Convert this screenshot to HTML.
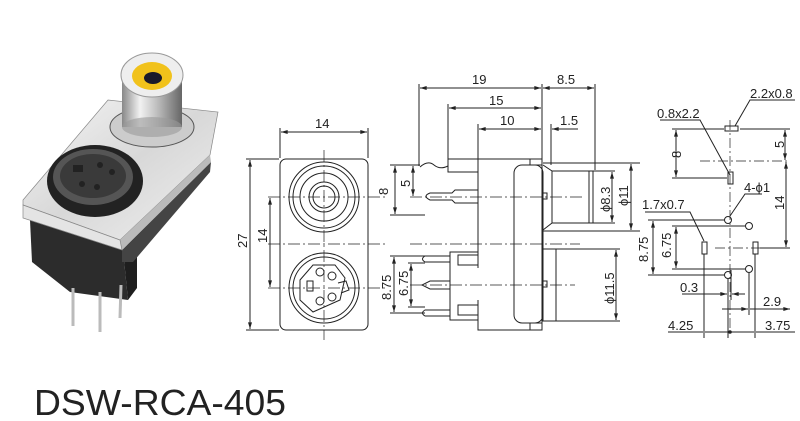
<!DOCTYPE html>
<html><head><meta charset="utf-8"><style>
html,body{margin:0;padding:0;background:#fff;width:800px;height:421px;overflow:hidden}
svg{display:block}
text{font-family:"Liberation Sans",Arial,sans-serif;fill:#222}
</style></head><body>
<svg width="800" height="421" viewBox="0 0 800 421" xmlns="http://www.w3.org/2000/svg">
<defs>
<linearGradient id="metal" x1="0" y1="0" x2="1" y2="1">
<stop offset="0" stop-color="#f6f6f6"/><stop offset="0.5" stop-color="#d8d8d8"/><stop offset="1" stop-color="#f0f0f0"/></linearGradient>
<linearGradient id="cyl" x1="0" y1="0" x2="1" y2="0">
<stop offset="0" stop-color="#888"/><stop offset="0.3" stop-color="#f2f2f2"/><stop offset="0.6" stop-color="#bbb"/><stop offset="1" stop-color="#666"/></linearGradient>
<marker id="a" viewBox="0 0 10 6" refX="10" refY="3" markerWidth="8" markerHeight="4" orient="auto-start-reverse"><path d="M0,0L10,3L0,6z" fill="#222"/></marker>
</defs>

<!-- Photo -->
<polygon points="30,220 123,250 128,300 70,292 32,262" fill="#2c2c2c"/>
<polygon points="123,250 137,236 137,288 128,300" fill="#1e1e1e"/>
<g stroke="#bbb" stroke-width="3"><line x1="73" y1="288" x2="73" y2="326"/><line x1="100" y1="292" x2="100" y2="332"/><line x1="121" y1="285" x2="120" y2="318"/></g>
<polygon points="122,250 211,162 210,172 133,262 122,262" fill="#444"/>
<polygon points="23,200 108,100 218,112 210,155 120,240 23,205" fill="url(#metal)" stroke="#888" stroke-width="0.7"/>
<polygon points="120,240 210,155 211,162 122,250" fill="#bbb"/>
<polygon points="23,205 120,240 122,250 23,218" fill="#e4e4e4" stroke="#888" stroke-width="0.7"/>
<ellipse cx="95" cy="181" rx="48" ry="36" fill="#222"/>
<ellipse cx="93" cy="177" rx="40" ry="28" fill="#555"/>
<ellipse cx="93" cy="176" rx="33" ry="22" fill="#3a3a3a"/>
<g fill="#222"><rect x="73" y="165" width="10" height="7"/><circle cx="100" cy="165" r="3"/><circle cx="112" cy="172" r="3"/><circle cx="82" cy="184" r="3"/><circle cx="97" cy="187" r="3"/></g>
<ellipse cx="152" cy="127" rx="42" ry="20" fill="#ccc" stroke="#555"/>
<rect x="122" y="75" width="60" height="52" fill="url(#cyl)"/>
<ellipse cx="152" cy="127" rx="30" ry="10" fill="#999" opacity="0.6"/>
<ellipse cx="152" cy="75" rx="31" ry="22" fill="#eee" stroke="#999"/>
<ellipse cx="152" cy="76" rx="20" ry="14" fill="#f1c21b"/>
<ellipse cx="153" cy="78" rx="9" ry="6" fill="#1a1a2a"/>

<text x="34" y="415" font-size="36" textLength="252" lengthAdjust="spacingAndGlyphs">DSW-RCA-405</text>

<g fill="none" stroke="#222" stroke-width="1">
<!-- Front view -->
<rect x="280" y="159" width="88" height="171" rx="6"/>
<circle cx="324" cy="197" r="35"/><circle cx="324" cy="197" r="31"/><circle cx="324" cy="197" r="24"/><circle cx="324" cy="197" r="15"/><circle cx="324" cy="197" r="11"/>
<circle cx="324" cy="288" r="35"/><circle cx="324" cy="288" r="31"/>
<path d="M300,280 L313,265 L335,265 L345,278 L340,300 L313,312 L300,300 Z"/>
<rect x="307" y="281" width="6" height="10"/>
<circle cx="320" cy="272" r="4"/><circle cx="332" cy="276" r="4"/><circle cx="320" cy="301" r="4"/><circle cx="332" cy="297" r="4"/>
<path d="M338,283 L346,281 L349,290 L341,293"/>
<g stroke-dasharray="12,3,2,3" stroke-width="0.7"><line x1="324" y1="150" x2="324" y2="340"/><line x1="268" y1="197" x2="385" y2="197"/><line x1="268" y1="244" x2="385" y2="244"/><line x1="268" y1="288" x2="385" y2="288"/></g>
<line x1="280" y1="128" x2="280" y2="158"/><line x1="368" y1="128" x2="368" y2="158"/>
<line x1="281" y1="132" x2="367" y2="132" marker-start="url(#a)" marker-end="url(#a)"/>
<line x1="246" y1="159" x2="279" y2="159"/><line x1="246" y1="330" x2="279" y2="330"/>
<line x1="250" y1="160" x2="250" y2="329" marker-start="url(#a)" marker-end="url(#a)"/>
<line x1="270" y1="198" x2="270" y2="287" marker-start="url(#a)" marker-end="url(#a)"/>

<!-- Side view -->
<line x1="419" y1="84" x2="419" y2="166"/><line x1="448" y1="104" x2="448" y2="159"/><line x1="478" y1="124" x2="478" y2="159"/>
<line x1="542" y1="84" x2="542" y2="159"/><line x1="595" y1="84" x2="595" y2="170"/><line x1="551" y1="124" x2="551" y2="165"/>
<line x1="420" y1="88" x2="541" y2="88" marker-start="url(#a)" marker-end="url(#a)"/>
<line x1="543" y1="88" x2="594" y2="88" marker-start="url(#a)" marker-end="url(#a)"/>
<line x1="449" y1="108" x2="541" y2="108" marker-start="url(#a)" marker-end="url(#a)"/>
<line x1="479" y1="129" x2="541" y2="129" marker-start="url(#a)" marker-end="url(#a)"/>
<line x1="578" y1="129" x2="552" y2="129" marker-end="url(#a)"/>
<path d="M448,159 L542,159 L542,330 L478,330 L478,300 M478,268 L478,159"/>
<path d="M448,159 L448,172 L478,172"/>
<path d="M420,167 Q428,160 434,165 Q440,170 448,166"/>
<rect x="514" y="165" width="29" height="158" rx="8"/>
<rect x="530" y="159" width="12" height="6"/><rect x="530" y="323" width="12" height="7"/>
<path d="M543,165 L552,171 L552,223 L543,230"/>
<rect x="552" y="171" width="41" height="52"/>
<line x1="589" y1="171" x2="589" y2="223"/>
<rect x="543" y="249" width="13" height="72"/>
<line x1="556" y1="249" x2="620" y2="249"/><line x1="556" y1="321" x2="620" y2="321"/>
<line x1="552" y1="171" x2="615" y2="171"/><line x1="552" y1="223" x2="615" y2="223"/>
<line x1="543" y1="163" x2="640" y2="163"/><line x1="543" y1="231" x2="640" y2="231"/>
<line x1="612" y1="172" x2="612" y2="222" marker-start="url(#a)" marker-end="url(#a)"/>
<line x1="631" y1="164" x2="631" y2="230" marker-start="url(#a)" marker-end="url(#a)"/>
<line x1="616" y1="250" x2="616" y2="320" marker-start="url(#a)" marker-end="url(#a)"/>
<path d="M478,190 L455,190 L452,193 L430,193 Q422,196 430,200 L452,200 L455,203 L478,203"/>
<path d="M478,252 L450,252 L450,320 L478,320"/>
<path d="M450,256 L425,256 Q420,259 425,262 L450,262 M450,310 L425,310 Q420,313 425,316 L450,316"/>
<path d="M450,281 L430,281 L422,285 L430,289 L450,289"/>
<rect x="458" y="255" width="20" height="10"/><rect x="458" y="305" width="20" height="10"/>
<rect x="542" y="193" width="5" height="6"/><rect x="542" y="281" width="5" height="6"/>
<g stroke-dasharray="12,3,2,3" stroke-width="0.7"><line x1="410" y1="197" x2="585" y2="197"/><line x1="410" y1="244" x2="580" y2="244"/><line x1="410" y1="285" x2="575" y2="285"/></g>
<line x1="390" y1="165" x2="420" y2="165"/><line x1="390" y1="215" x2="425" y2="215"/>
<line x1="395" y1="166" x2="395" y2="214" marker-start="url(#a)" marker-end="url(#a)"/>
<line x1="413" y1="166" x2="413" y2="196" marker-start="url(#a)" marker-end="url(#a)"/>
<line x1="390" y1="256" x2="425" y2="256"/><line x1="390" y1="313" x2="425" y2="313"/>
<line x1="408" y1="263" x2="425" y2="263"/><line x1="408" y1="307" x2="425" y2="307"/>
<line x1="394" y1="257" x2="394" y2="312" marker-start="url(#a)" marker-end="url(#a)"/>
<line x1="411" y1="264" x2="411" y2="306" marker-start="url(#a)" marker-end="url(#a)"/>

<!-- Right footprint -->
<g stroke-dasharray="10,3,2,3" stroke-width="0.7"><line x1="730" y1="120" x2="730" y2="335"/><line x1="700" y1="161" x2="790" y2="161"/><line x1="715" y1="248" x2="770" y2="248"/></g>
<rect x="725" y="126" width="13" height="5"/><rect x="728" y="172" width="5" height="12"/>
<rect x="702" y="242" width="5" height="12"/><rect x="753" y="242" width="5" height="12"/>
<circle cx="728" cy="220" r="3.5"/><circle cx="749" cy="226" r="3.5"/><circle cx="728" cy="275" r="3.5"/><circle cx="749" cy="269" r="3.5"/>
<line x1="672" y1="129" x2="724" y2="129"/><line x1="672" y1="178" x2="727" y2="178"/><line x1="740" y1="129" x2="790" y2="129"/>
<line x1="676" y1="130" x2="676" y2="177" marker-start="url(#a)" marker-end="url(#a)"/>
<line x1="785" y1="130" x2="785" y2="160" marker-start="url(#a)" marker-end="url(#a)"/>
<line x1="786" y1="162" x2="786" y2="247" marker-start="url(#a)" marker-end="url(#a)"/>
<line x1="760" y1="248" x2="790" y2="248"/>
<path d="M735,126 L750,100 L795,100"/>
<path d="M730,175 L700,120 L660,120"/>
<path d="M730,216 L745,194 L762,194"/>
<path d="M704,241 L690,212 L645,212"/>
<line x1="648" y1="220" x2="725" y2="220"/><line x1="648" y1="275" x2="725" y2="275"/>
<line x1="672" y1="226" x2="745" y2="226"/><line x1="672" y1="269" x2="745" y2="269"/>
<line x1="653" y1="221" x2="653" y2="274" marker-start="url(#a)" marker-end="url(#a)"/>
<line x1="676" y1="227" x2="676" y2="268" marker-start="url(#a)" marker-end="url(#a)"/>
<line x1="704" y1="254" x2="704" y2="338"/><line x1="728" y1="279" x2="728" y2="338"/><line x1="731" y1="270" x2="731" y2="300"/><line x1="749" y1="273" x2="749" y2="315"/><line x1="755" y1="254" x2="755" y2="338"/>
<line x1="682" y1="294" x2="727" y2="294" marker-end="url(#a)"/><line x1="745" y1="294" x2="732" y2="294" marker-end="url(#a)"/>
<line x1="722" y1="309" x2="748" y2="309" marker-end="url(#a)"/><line x1="790" y1="309" x2="750" y2="309" marker-start="url(#a)"/>
<line x1="668" y1="332" x2="703" y2="332"/><line x1="705" y1="332" x2="754" y2="332"/><line x1="756" y1="332" x2="795" y2="332"/>
</g>
<circle cx="730" cy="332" r="1.8" fill="#222"/>

<g font-size="13">
<text x="315" y="128">14</text>
<text transform="translate(247,248) rotate(-90)">27</text>
<text transform="translate(267,243) rotate(-90)">14</text>
<text x="472" y="84">19</text><text x="557" y="84">8.5</text>
<text x="489" y="105">15</text><text x="500" y="125">10</text><text x="560" y="125">1.5</text>
<text transform="translate(388,195) rotate(-90)">8</text>
<text transform="translate(410,187) rotate(-90)">5</text>
<text transform="translate(391,300) rotate(-90)">8.75</text>
<text transform="translate(408,296) rotate(-90)">6.75</text>
<text transform="translate(610,212) rotate(-90)">ϕ8.3</text>
<text transform="translate(628,206) rotate(-90)">ϕ11</text>
<text transform="translate(614,304) rotate(-90)">ϕ11.5</text>
<text x="750" y="98">2.2x0.8</text><text x="657" y="118">0.8x2.2</text>
<text transform="translate(681,158) rotate(-90)">8</text>
<text transform="translate(784,148) rotate(-90)">5</text>
<text transform="translate(784,210) rotate(-90)">14</text>
<text x="744" y="192">4-ϕ1</text><text x="642" y="209">1.7x0.7</text>
<text transform="translate(648,262) rotate(-90)">8.75</text>
<text transform="translate(671,258) rotate(-90)">6.75</text>
<text x="680" y="292">0.3</text><text x="763" y="306">2.9</text>
<text x="668" y="330">4.25</text><text x="765" y="330">3.75</text>
</g>
</svg>
</body></html>
